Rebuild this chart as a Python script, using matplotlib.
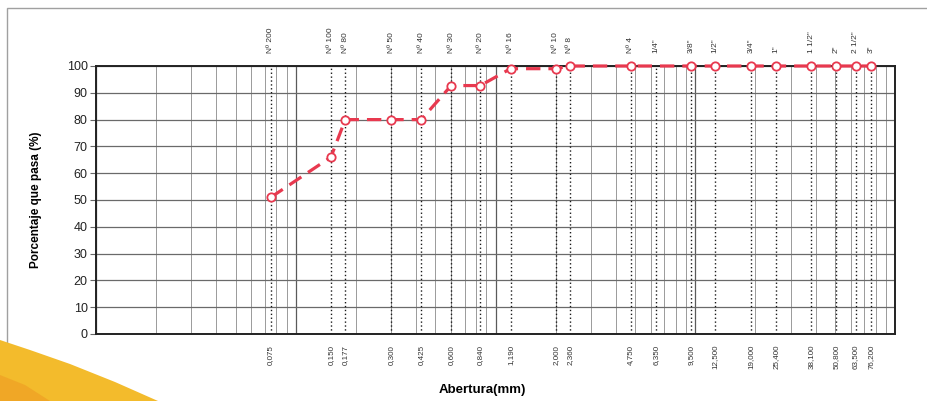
import numpy as np
import matplotlib.pyplot as plt
from matplotlib.patches import Polygon, Rectangle
from matplotlib.transforms import blended_transform_factory

plt.rcParams['font.family'] = ['Liberation Sans', 'DejaVu Sans']

# sieve series (ASTM) and openings in mm
sieves = ["Nº 200", "Nº 100", "Nº 80", "Nº 50", "Nº 40", "Nº 30", "Nº 20", "Nº 16",
          "Nº 10", "Nº 8", "Nº 4", '1/4"', '3/8"', '1/2"', '3/4"', '1"', '1 1/2"',
          '2"', '2 1/2"', '3"']
openings = [0.075, 0.150, 0.177, 0.300, 0.425, 0.600, 0.840, 1.190, 2.000, 2.360,
            4.750, 6.350, 9.500, 12.500, 19.000, 25.400, 38.100, 50.800, 63.500, 76.200]
# percentage passing (1/4" not tested)
passing = [51, 66, 80, 80, 80, 92.7, 92.7, 99, 99, 100,
           100, np.nan, 100, 100, 100, 100, 100, 100, 100, 100]

W, H = 927, 401
fig = plt.figure(figsize=(W / 100, H / 100), dpi=100)
fig.patch.set_facecolor('white')

# page frame and the yellow corner
fig.add_artist(Rectangle((7 / W, -0.1), 1.2, 1 - 8 / H + 0.1, transform=fig.transFigure,
                         fill=False, edgecolor='#a0a0a0', lw=1.0))
corner = [(0, 340), (30, 350), (70, 364), (115, 382), (158, 401), (0, 401)]
fig.add_artist(Polygon([(x / W, 1 - y / H) for x, y in corner], closed=True,
                       transform=fig.transFigure, facecolor='#f3bb2c', edgecolor='none'))
fig.add_artist(Polygon([(x / W, 1 - y / H) for x, y in [(0, 375), (25, 385), (50, 401), (0, 401)]],
                       closed=True, transform=fig.transFigure, facecolor='#ee9a22',
                       edgecolor='none', alpha=0.6))

ax = fig.add_axes([96 / W, 1 - 334 / H, (895 - 96) / W, (334 - 66) / H])
ax.set_xscale('log')
ax.set_xlim(0.01, 100)
ax.set_ylim(0, 100)

# log grid
ax.grid(True, which='major', axis='x', color='#5a5a5a', lw=0.9)
ax.grid(True, which='minor', axis='x', color='#9a9a9a', lw=0.7)
ax.grid(True, which='major', axis='y', color='#6a6a6a', lw=0.9)
ax.set_yticks(np.arange(0, 101, 10))
ax.tick_params(axis='y', labelsize=9, length=4, width=0.8, color='#666666', pad=2,
               labelcolor='#222222')
ax.tick_params(axis='x', which='both', length=0, labelbottom=False)
for s in ax.spines.values():
    s.set_linewidth(1.4)
    s.set_color('#222222')

# sieve lines
for d in openings:
    ax.axvline(d, color='#1a1a1a', lw=1.0, ls=(0, (1, 1.8)), zorder=2)

trans = blended_transform_factory(ax.transData, ax.transAxes)
for name, d in zip(sieves, openings):
    ax.text(d, 1.05, name, transform=trans, rotation=90, ha='center', va='bottom',
            fontsize=6, color='#333333')
    ax.text(d, -0.04, f"{d:.3f}".replace('.', ','), transform=trans, rotation=90,
            ha='center', va='top', fontsize=5.8, color='#333333')

# grading curve
op = np.array(openings)
pp = np.array(passing, dtype=float)
ok = ~np.isnan(pp)
ax.plot(op[ok], pp[ok], color='#e8394f', lw=2.3, ls=(0, (4.5, 2.5)), marker='o',
        ms=6, mfc='white', mec='#e8394f', mew=1.3, zorder=5, clip_on=False)

ax.set_ylabel('Porcentaje que pasa (%)', fontsize=8.5, fontweight='bold', labelpad=18)
fig.text(482 / W, 1 - 390 / H, 'Abertura(mm)', ha='center', va='center',
         fontsize=9.5, fontweight='bold')

fig.savefig('out.png', dpi=100)
